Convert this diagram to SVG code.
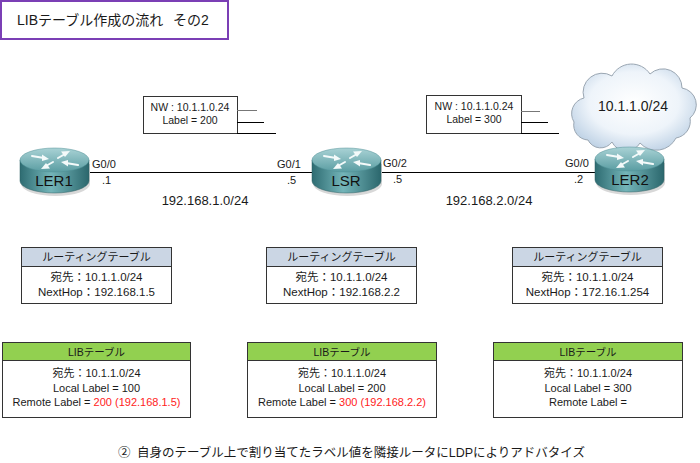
<svg xmlns="http://www.w3.org/2000/svg" xmlns:xlink="http://www.w3.org/1999/xlink" width="700" height="463" viewBox="0 0 700 463">
<style>
text{font-family:"Liberation Sans","Noto Sans CJK JP",sans-serif;fill:#1a1a1a}
.lbl{font-size:11px}
.sub{font-size:13px;text-anchor:middle}
.nw{font-size:10.5px;text-anchor:middle}
.rname{font-size:15px;text-anchor:middle;fill:#111}
.tb{fill:#fff;stroke:#333;stroke-width:1}
.rt-h{fill:#CBD6E4;stroke:#333;stroke-width:1}
.lib-h{fill:#92D050;stroke:#333;stroke-width:1}
.tt{font-size:11px;text-anchor:middle}
.rtt{font-size:11.5px;text-anchor:middle}
.th{font-size:11px;text-anchor:middle}
.lh{font-size:10.5px;text-anchor:middle}
.red{fill:#FF2222}
.link{stroke:#000;stroke-width:1;fill:none}
.ln{stroke:#000;stroke-width:1}
.arr{stroke:#F4FAFA;stroke-width:2;fill:none;stroke-linecap:round}
.arrh{fill:#F4FAFA}
</style>
<defs>
<linearGradient id="rtop" x1="0" y1="0" x2="0" y2="1">
<stop offset="0" stop-color="#A9D2D5"/>
<stop offset="1" stop-color="#5A9DA2"/>
</linearGradient>
<linearGradient id="rside" x1="0" y1="0" x2="1" y2="0">
<stop offset="0" stop-color="#2E6C72"/>
<stop offset="0.45" stop-color="#74B5B9"/>
<stop offset="1" stop-color="#2B676D"/>
</linearGradient>
<radialGradient id="cloudg" cx="0.5" cy="0.45" r="0.6">
<stop offset="0" stop-color="#FFFFFF"/>
<stop offset="0.6" stop-color="#EEF4FA"/>
<stop offset="1" stop-color="#BCD0E4"/>
</radialGradient>
<g id="router">
<path d="M1,36 A34.5,12 0 0 0 70,36 L70,16 L1,16 Z" fill="#D8D8D8"/>
<path d="M0,12 V33 A34.5,12 0 0 0 69,33 V12 Z" fill="url(#rside)" stroke="#2A5E63" stroke-width="0.5"/>
<ellipse cx="34.5" cy="12" rx="34.5" ry="12" fill="url(#rtop)" stroke="#4F8F94" stroke-width="0.5"/>
<path class="arr" d="M12,8 L24,10"/>
<path class="arrh" d="M29,11 L22,6.5 L22,13 Z"/>
<path class="arr" d="M38,10 L45,6"/>
<path class="arrh" d="M50,3 L41,3.5 L45,9 Z"/>
<path class="arr" d="M33,14 L26,18"/>
<path class="arrh" d="M21,21 L30,20.5 L26,15 Z"/>
<path class="arr" d="M58,17 L46,15"/>
<path class="arrh" d="M41,14 L48,18.5 L48,12 Z"/>
</g>
</defs>

<g id="title">
<rect x="1" y="1" width="227" height="38" fill="#fff" stroke="#7B3FB5" stroke-width="2"/>
<text x="17" y="25" style="font-size:14px">LIBテーブル作成の流れ<tspan x="173">その2</tspan></text>
</g>

<g id="connectors">
<line class="link" x1="89" y1="172.5" x2="312" y2="172.5"/>
<line class="link" x1="381" y1="172.5" x2="597" y2="172.5"/>
</g>

<g id="cloud">
<path d="M588,140 A15,15 0 0 1 574,122 A16,16 0 0 1 584,98 A19,19 0 0 1 612,76 A22,22 0 0 1 650,74 A19,19 0 0 1 682,88 A17,17 0 0 1 690,118 A17,17 0 0 1 676,138 A22,22 0 0 1 640,143 A16,16 0 0 1 612,142 A14,14 0 0 1 588,140 Z" fill="url(#cloudg)" stroke="#9AA6B2" stroke-width="1"/>
<text x="633" y="111" style="font-size:14px;text-anchor:middle">10.1.1.0/24</text>
</g>

<g id="LER1">
<use xlink:href="#router" href="#router" x="20" y="148"/>
<text class="rname" x="54" y="186">LER1</text>
</g>
<g id="LSR">
<use xlink:href="#router" href="#router" x="312" y="148"/>
<text class="rname" x="346" y="186">LSR</text>
</g>
<g id="LER2">
<use xlink:href="#router" href="#router" x="595" y="147"/>
<text class="rname" x="630" y="185">LER2</text>
</g>

<g id="if-labels">
<text class="lbl" x="92" y="168">G0/0</text>
<text class="lbl" x="102" y="184">.1</text>
<text class="lbl" x="277" y="168">G0/1</text>
<text class="lbl" x="287" y="184">.5</text>
<text class="lbl" x="383" y="167">G0/2</text>
<text class="lbl" x="393" y="183">.5</text>
<text class="lbl" x="565" y="167">G0/0</text>
<text class="lbl" x="574" y="183">.2</text>
<text class="sub" x="205" y="205">192.168.1.0/24</text>
<text class="sub" x="489" y="205">192.168.2.0/24</text>
</g>

<g id="msg1">
<rect x="143.5" y="96.5" width="94" height="37" fill="#fff" stroke="#333" stroke-width="1"/>
<line x1="237" y1="110.5" x2="257" y2="110.5" stroke="#777" stroke-width="1"/>
<line class="ln" x1="237" y1="122.5" x2="264" y2="122.5"/>
<line class="ln" x1="237" y1="133.5" x2="276" y2="133.5"/>
<text class="nw" x="190" y="111">NW : 10.1.1.0.24</text>
<text class="nw" x="190" y="124">Label = 200</text>
</g>
<g id="msg2">
<rect x="426.5" y="95.5" width="95" height="38" fill="#fff" stroke="#333" stroke-width="1"/>
<line x1="521" y1="111.5" x2="540" y2="111.5" stroke="#777" stroke-width="1"/>
<line class="ln" x1="521" y1="122.5" x2="548" y2="122.5"/>
<line class="ln" x1="521" y1="133.5" x2="559" y2="133.5"/>
<text class="nw" x="474" y="110">NW : 10.1.1.0.24</text>
<text class="nw" x="474" y="123">Label = 300</text>
</g>

<g id="rt1">
<rect class="tb" x="21.5" y="247.5" width="150" height="56"/>
<rect class="rt-h" x="21.5" y="247.5" width="150" height="19"/>
<text class="th" x="96.5" y="261">ルーティングテーブル</text>
<text class="rtt" x="96.5" y="281">宛先：10.1.1.0/24</text>
<text class="rtt" x="96.5" y="296">NextHop：192.168.1.5</text>
</g>
<g id="rt2">
<rect class="tb" x="266.5" y="247.5" width="150" height="56"/>
<rect class="rt-h" x="266.5" y="247.5" width="150" height="19"/>
<text class="th" x="341.5" y="261">ルーティングテーブル</text>
<text class="rtt" x="341.5" y="281">宛先：10.1.1.0/24</text>
<text class="rtt" x="341.5" y="296">NextHop：192.168.2.2</text>
</g>
<g id="rt3">
<rect class="tb" x="512.5" y="247.5" width="150" height="56"/>
<rect class="rt-h" x="512.5" y="247.5" width="150" height="19"/>
<text class="th" x="587.5" y="261">ルーティングテーブル</text>
<text class="rtt" x="587.5" y="281">宛先：10.1.1.0/24</text>
<text class="rtt" x="587.5" y="296">NextHop：172.16.1.254</text>
</g>

<g id="lib1">
<rect class="tb" x="2.5" y="342.5" width="188" height="75"/>
<rect class="lib-h" x="2.5" y="342.5" width="188" height="18"/>
<text class="lh" x="96.5" y="356">LIBテーブル</text>
<text class="tt" x="96.5" y="377">宛先：10.1.1.0/24</text>
<text class="tt" x="96.5" y="392">Local Label = 100</text>
<text class="tt" x="96.5" y="406">Remote Label = <tspan class="red">200 (192.168.1.5)</tspan></text>
</g>
<g id="lib2">
<rect class="tb" x="247.5" y="342.5" width="189" height="75"/>
<rect class="lib-h" x="247.5" y="342.5" width="189" height="18"/>
<text class="lh" x="342" y="356">LIBテーブル</text>
<text class="tt" x="342" y="377">宛先：10.1.1.0/24</text>
<text class="tt" x="342" y="392">Local Label = 200</text>
<text class="tt" x="342" y="406">Remote Label = <tspan class="red">300 (192.168.2.2)</tspan></text>
</g>
<g id="lib3">
<rect class="tb" x="493.5" y="342.5" width="189" height="75"/>
<rect class="lib-h" x="493.5" y="342.5" width="189" height="18"/>
<text class="lh" x="588" y="356">LIBテーブル</text>
<text class="tt" x="588" y="377">宛先：10.1.1.0/24</text>
<text class="tt" x="588" y="392">Local Label = 300</text>
<text class="tt" x="588" y="406">Remote Label =</text>
</g>

<g id="caption">
<text x="118" y="457" style="font-size:12.5px">②<tspan x="137">自身のテーブル上で割り当てたラベル値を隣接ルータにLDPによりアドバタイズ</tspan></text>
</g>
</svg>
